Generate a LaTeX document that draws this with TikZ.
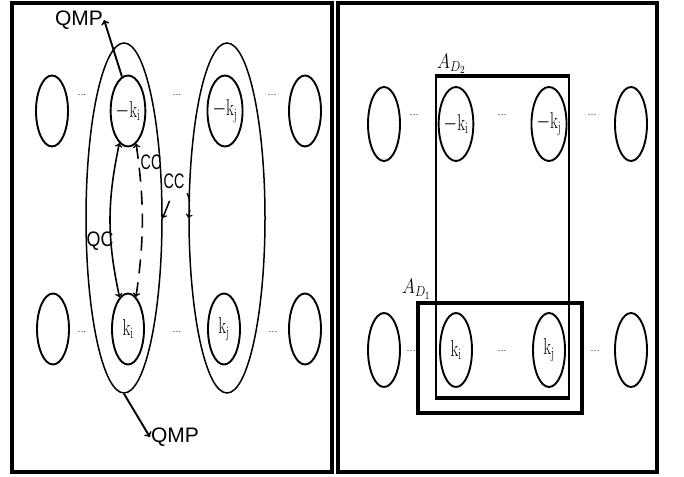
\documentclass[tikz,border=0pt]{standalone}
\usepackage{fontspec}
\usepackage{amsmath}
\usepackage{graphicx}
\usetikzlibrary{shapes.geometric}
\newfontfamily\chanfont{Liberation Sans}
\newcommand{\narrow}[2][0.7]{\scalebox{#1}[1]{#2}}

\begin{document}
\begin{tikzpicture}[x=1pt,y=1pt,
        state/.style={ellipse,draw,line width=1.9pt,inner sep=0pt,minimum width=32pt,minimum height=71pt,font=\fontsize{23}{25}\selectfont},
        group/.style={ellipse,draw,line width=1.5pt,inner sep=0pt,minimum width=76pt,minimum height=350pt},
        dots/.style={inner sep=0pt,font=\fontsize{11}{11}\selectfont},
        chan/.style={inner sep=1pt,font=\chanfont\fontsize{21}{23}\selectfont},
        panel/.style={line width=3.5pt},
        region/.style={draw,line width=3.5pt,inner sep=0pt}]
        \useasboundingbox(0,0)rectangle(684,476);
        % left panel
        \draw[panel](12,4)rectangle(332,473);
        \node[group](bigL)at(124,258){};
        \node[group](bigR)at(227,258){};

        \node[state](e1)at(52,365){};
        \node[state](mki)at(128,365){\narrow{$-\mathrm{k}_\mathrm{i}$}};
        \node[state](mkj)at(225,365){\narrow{$-\mathrm{k}_\mathrm{j}$}};
        \node[state](e4)at(305,365){};
        \node[state](f1)at(53,147){};
        \node[state](ki)at(128,147){\narrow{$\mathrm{k}_\mathrm{i}$}};
        \node[state](kj)at(224,147){\narrow{$\mathrm{k}_\mathrm{j}$}};
        \node[state](f4)at(305,147){};
        \node[dots](da1)at(82,381){...};
        \node[dots](da2)at(177,381){...};
        \node[dots](da3)at(272,381){...};
        \node[dots](db1)at(82,144){...};
        \node[dots](db2)at(177,144){...};
        \node[dots](db3)at(273,144){...};

        \node[chan](qmpT)at(79,456){QMP};
        \node[chan](qmpB)at(175,39){QMP};
        \node[chan](qc)at(100,235){\narrow[0.85]{QC}};
        \node[chan](cc1)at(151,314){\narrow[0.68]{CC}};
        \node[chan](cc2)at(174,295){\narrow[0.68]{CC}};

        \draw[->,line width=1.9pt](mki.100)--(qmpT.east);
        \draw[->,line width=1.9pt](bigL.south)--(qmpB.west);
        \draw[<->,line width=1.6pt](mki.255)to[bend right=12](ki.105);
        \draw[<->,line width=1.6pt,dash pattern=on 14pt off 9pt](mki.284)to[bend left=8](ki.76);
        \draw[->,line width=1.5pt,shorten <=12pt](cc2.south)--(bigL.east);
        \draw[->,line width=1.5pt,dash pattern=on 8pt off 9pt,shorten <=4pt](cc2.south east)to[bend left=20](bigR.west);

        % right panel
        \draw[panel](338,4)rectangle(657,473);
        \node[state,minimum height=74pt](g1)at(384,352){};
        \node[state,minimum height=74pt](mki2)at(456,352){\narrow{$-\mathrm{k}_\mathrm{i}$}};
        \node[state,minimum height=74pt](mkj2)at(549,352){\narrow{$-\mathrm{k}_\mathrm{j}$}};
        \node[state,minimum height=74pt](g4)at(631,352){};
        \node[state,minimum height=74pt](h1)at(384,126){};
        \node[state,minimum height=74pt](ki2)at(456,126){\narrow{$\mathrm{k}_\mathrm{i}$}};
        \node[state,minimum height=74pt](kj2)at(549,126){\narrow{$\mathrm{k}_\mathrm{j}$}};
        \node[state,minimum height=74pt](h4)at(631,126){};
        \node[dots](dc1)at(414,361){...};
        \node[dots](dc2)at(502,361){...};
        \node[dots](dc3)at(592,361){...};
        \node[dots](dd1)at(411,125){...};
        \node[dots](dd2)at(502,125){...};
        \node[dots](dd3)at(595,125){...};

        \node[draw,line width=2pt,inner sep=0pt,minimum width=133pt,minimum height=320pt](d2)at(502.5,239){};
        \draw[line width=4pt](d2.north west)--(d2.north east);
        \draw[line width=4pt](d2.south west)--(d2.south east);
        \node[region,minimum width=164pt,minimum height=110pt](d1)at(500,118){};
        \node[above right,inner sep=2pt,font=\fontsize{22}{24}\selectfont](ad2)at(d2.north west){\narrow[0.85]{$A_{D_2}$}};
        \node[above,inner sep=2pt,font=\fontsize{22}{24}\selectfont](ad1)at(d1.north west){\narrow[0.85]{$A_{D_1}$}};
\end{tikzpicture}
\end{document}
